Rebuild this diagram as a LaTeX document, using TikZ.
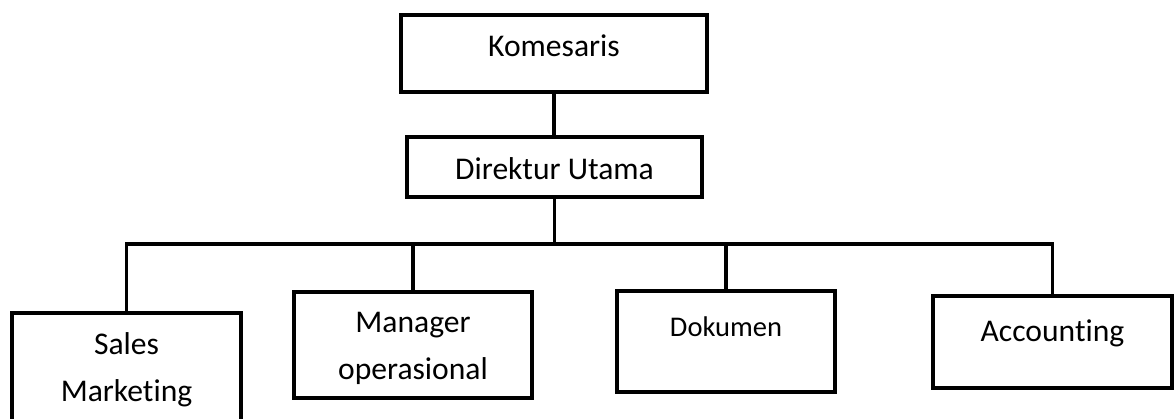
\documentclass[tikz,border=0pt]{standalone}
\usepackage{fontspec}
\setmainfont{Carlito}[Ligatures=NoCommon]
\begin{document}
\begin{tikzpicture}[x=1pt,y=-1pt,
    box/.style 2 args={draw,line width=3.4pt,inner sep=0pt,minimum width=#1,minimum height=#2},
    lbl/.style={anchor=base,inner sep=0pt,font=\fontsize{31.6}{40}\selectfont},
    conn/.style={line width=3.4pt}]
      \useasboundingbox (0,0) rectangle (1175,419);
      \clip (0,0) rectangle (1175,419);
      \node[box={306pt}{77pt},line width=4pt] (Kom) at (554,53.5) {};
      \node[box={295pt}{60pt}] (Dir) at (554.5,167) {};
      \node[box={229pt}{137pt}] (Sal) at (126.5,381.5) {};
      \node[box={238pt}{106pt},line width=4.4pt] (Man) at (413,345) {};
      \node[box={218pt}{101pt}] (Dok) at (726,341.5) {};
      \node[box={239pt}{92pt}] (Acc) at (1052.5,342) {};
      \node[lbl] (KomT)  at (554,57)    {Komesaris};
      \node[lbl] (DirT)  at (554.5,180) {Direktur Utama};
      \node[lbl] (SalT)  at (126.5,355) {Sales};
      \node[lbl] (SalT2) at (126.5,402) {Marketing};
      \node[lbl] (ManT)  at (413,333)   {Manager};
      \node[lbl] (ManT2) at (413,380)   {operasional};
      \node[lbl,font=\fontsize{28.5}{36}\selectfont] (DokT) at (726,337) {Dokumen};
      \node[lbl] (AccT)  at (1052.5,342) {Accounting};
      \coordinate (bar) at (0,244);
      \draw[conn] (Kom.south) -- (Kom.south |- Dir.north);
      \draw[conn] (Dir.south) -- (Dir.south |- bar);
      \draw[conn] (Sal.north) |- (bar -| Acc.north) -- (Acc.north);
      \foreach \n in {Man,Dok}
        \draw[conn] (bar -| \n.north) -- (\n.north);
    \end{tikzpicture}
\end{document}
